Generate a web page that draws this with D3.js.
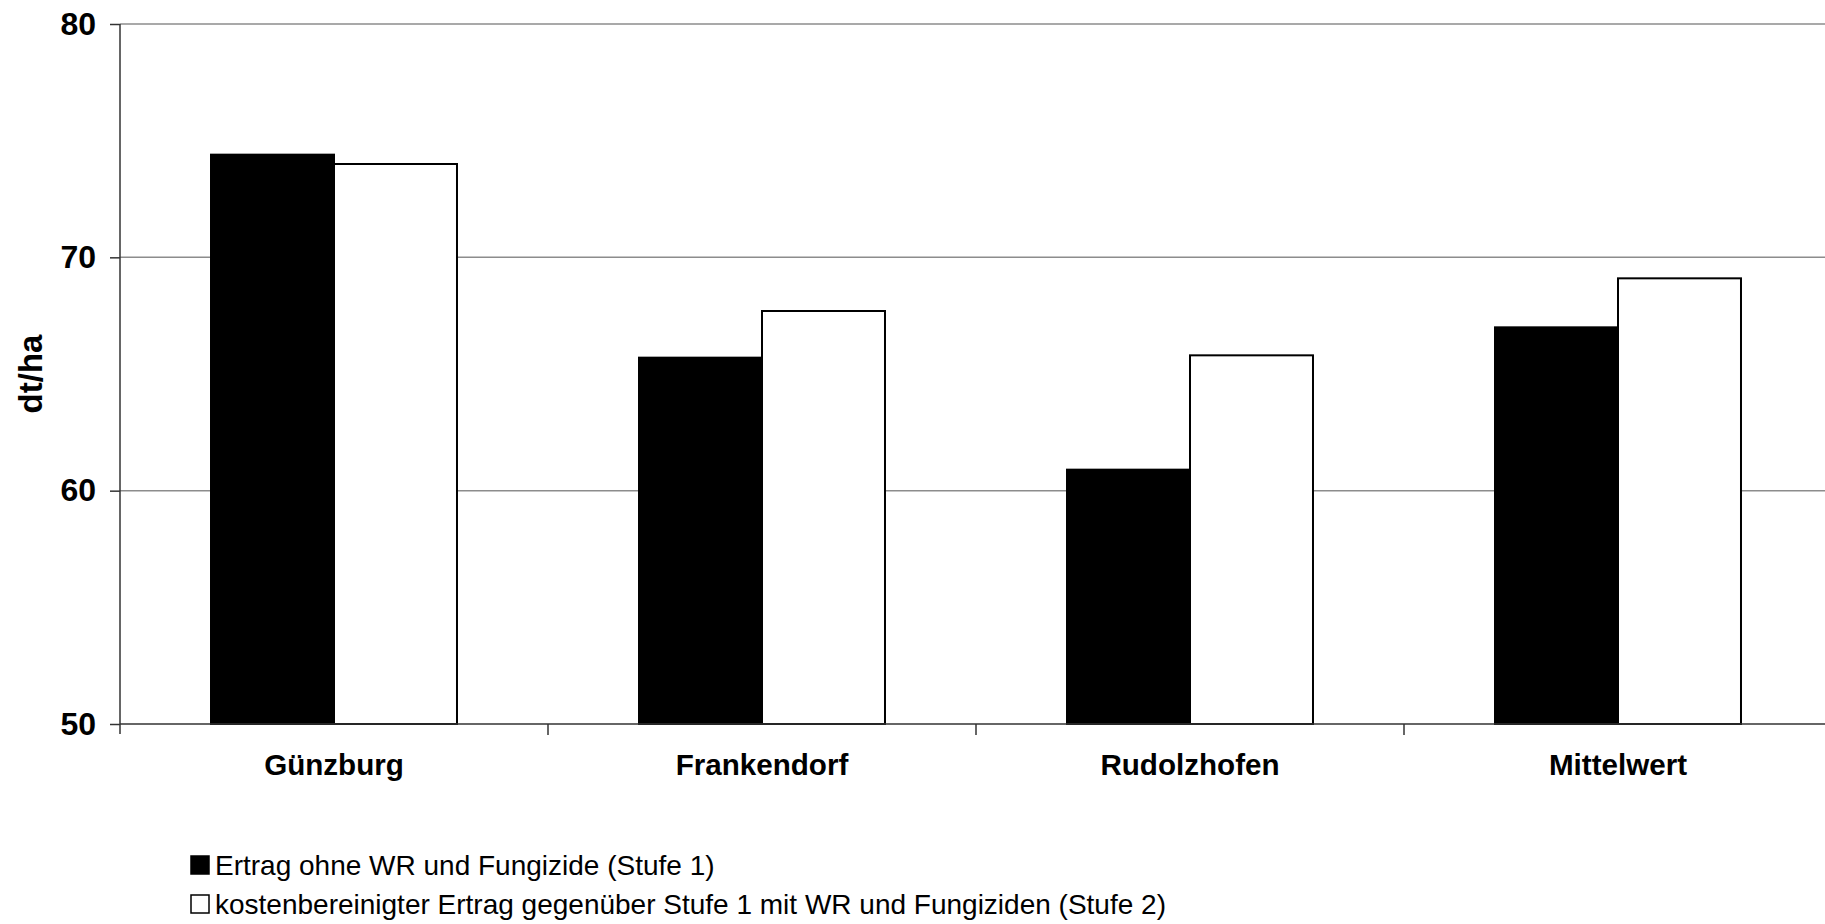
<!DOCTYPE html>
<html>
<head>
<meta charset="utf-8">
<script src="https://cdn.jsdelivr.net/npm/d3@7"></script>
<style>
  html, body { margin: 0; padding: 0; background: #fff; }
  svg { display: block; font-family: "Liberation Sans", Arial, sans-serif; }
</style>
</head>
<body>
<svg id="chart" width="1825" height="924"></svg>
<script>
const categories = ["Günzburg", "Frankendorf", "Rudolzhofen", "Mittelwert"];
const seriesNames = [
  "Ertrag ohne WR und Fungizide (Stufe 1)",
  "kostenbereinigter Ertrag gegenüber Stufe 1 mit WR und Fungiziden (Stufe 2)"
];
const stufe1 = [74.4, 65.7, 60.9, 67.0];
const stufe2 = [74.0, 67.7, 65.8, 69.1];
const yTicks = [50, 60, 70, 80];
const yTitle = "dt/ha";

(function () {
const svg = d3.select("#chart");
const mLeft = 120, mTop = 24, mBottom = 724, band = 428;
const mRight = mLeft + band * categories.length;

const x = d3.scaleBand().domain(categories).range([mLeft, mRight]).padding(0);
const xs = d3.scaleBand().domain([0, 1]).range([0, x.bandwidth()]).paddingInner(0).paddingOuter(0.74);
const y = d3.scaleLinear().domain([50, 80]).range([mBottom, mTop]);

// gridlines
svg.append("g").selectAll("line").data(yTicks.filter(d => d !== 50)).join("line")
  .attr("x1", mLeft).attr("x2", 1825)
  .attr("y1", d => y(d)).attr("y2", d => y(d))
  .attr("stroke", "#8c8c8c").attr("stroke-width", 1.5);

// bars
const series = [stufe1, stufe2];
const fills = ["#000", "#fff"];
series.forEach((vals, si) => {
  svg.append("g").selectAll("rect").data(categories).join("rect")
    .attr("x", c => x(c) + xs(si))
    .attr("width", xs.bandwidth())
    .attr("y", (c, i) => y(vals[i]))
    .attr("height", (c, i) => y(50) - y(vals[i]))
    .attr("fill", fills[si])
    .attr("stroke", "#000")
    .attr("stroke-width", 2);
});

// y axis
const yAxis = d3.axisLeft(y).tickValues(yTicks).tickSize(10).tickPadding(14).tickFormat(d3.format("d"));
const gy = svg.append("g").attr("transform", `translate(${mLeft},0)`).call(yAxis);
gy.select(".domain").attr("stroke", "#333").attr("stroke-width", 1.5).attr("d", `M0,${mTop}V${mBottom + 10}`);
gy.selectAll(".tick line").attr("stroke", "#333").attr("stroke-width", 1.5);
gy.selectAll(".tick text").attr("font-size", 32).attr("font-weight", "bold").attr("fill", "#000")
  .attr("font-family", "Liberation Sans, Arial, sans-serif");

// x axis
const xAxis = d3.axisBottom(x).tickSize(0).tickPadding(30);
const gx = svg.append("g").attr("transform", `translate(0,${mBottom})`).call(xAxis);
gx.select(".domain").attr("stroke", "#333").attr("stroke-width", 1.5).attr("d", `M${mLeft},0H1825`);
gx.selectAll(".tick text").attr("font-size", 29.6).attr("font-weight", "bold").attr("fill", "#000")
  .attr("font-family", "Liberation Sans, Arial, sans-serif").attr("dy", "0.71em");
// boundary ticks
svg.append("g").selectAll("line").data(categories.slice(1)).join("line")
  .attr("x1", c => x(c)).attr("x2", c => x(c))
  .attr("y1", mBottom).attr("y2", mBottom + 11)
  .attr("stroke", "#333").attr("stroke-width", 1.5);

// y title
svg.append("text")
  .attr("transform", `translate(42,${(mTop + mBottom) / 2}) rotate(-90)`)
  .attr("text-anchor", "middle")
  .attr("font-size", 33).attr("font-weight", "bold")
  .text(yTitle);

// legend
const legend = svg.append("g");
const legY = [875, 914];
seriesNames.forEach((name, i) => {
  legend.append("rect")
    .attr("x", 191).attr("y", legY[i] - 19).attr("width", 18).attr("height", 18)
    .attr("fill", fills[i]).attr("stroke", "#000").attr("stroke-width", 1.5);
  legend.append("text")
    .attr("x", 215).attr("y", legY[i])
    .attr("font-size", 28).attr("fill", "#000")
    .text(name);
});
})();
</script>
</body>
</html>
